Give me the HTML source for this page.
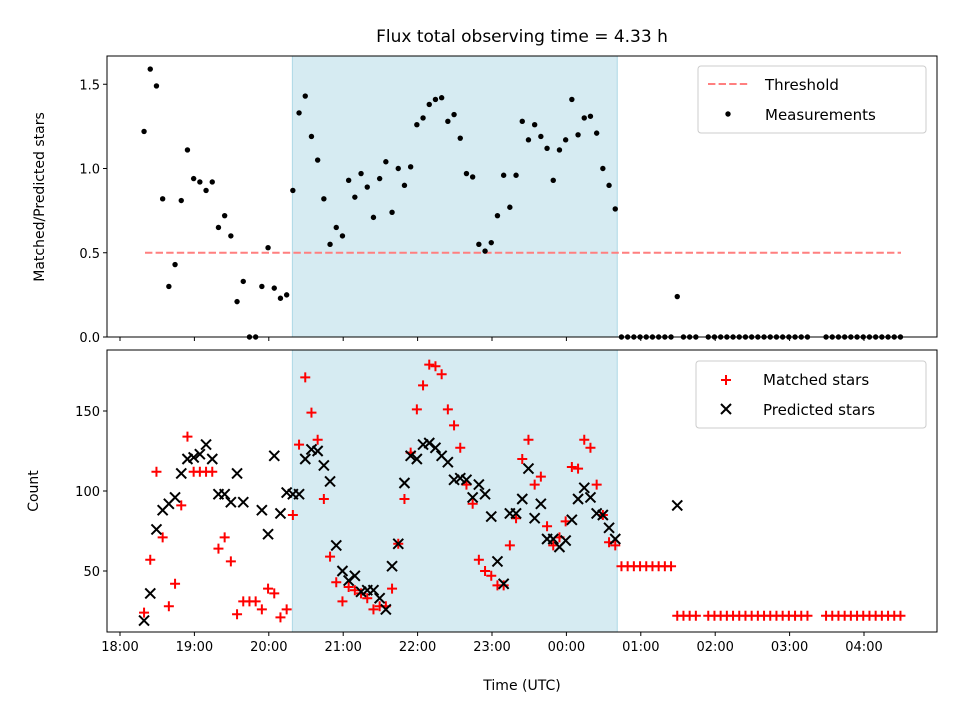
<!DOCTYPE html>
<html><head><meta charset="utf-8"><style>
body{margin:0;background:#fff}
svg text{font-family:"DejaVu Sans","Liberation Sans",sans-serif;fill:#000}
</style></head><body>
<svg id="c" width="960" height="720" viewBox="0 0 960 720" xmlns="http://www.w3.org/2000/svg"></svg>
<script>
const ratio=[1.22,1.59,1.49,0.82,0.30,0.43,0.81,1.11,0.94,0.92,0.87,0.92,0.65,0.72,0.60,0.21,0.33,0,0,0.30,0.53,0.29,0.23,0.25,0.87,1.33,1.43,1.19,1.05,0.82,0.55,0.65,0.60,0.93,0.83,0.97,0.89,0.71,0.94,1.04,0.74,1.00,0.90,1.01,1.26,1.30,1.38,1.41,1.42,1.28,1.32,1.18,0.97,0.95,0.55,0.51,0.56,0.72,0.96,0.77,0.96,1.28,1.17,1.26,1.19,1.12,0.93,1.11,1.17,1.41,1.20,1.30,1.31,1.21,1.00,0.90,0.76];
const matched=[24,57,112,71,28,42,91,134,112,112,112,112,64,71,56,23,31,31,31,26,39,36,21,26,85,129,171,149,132,95,59,43,31,40,38,36,33,26,28,28,39,67,95,124,151,166,179,178,173,151,141,127,104,92,57,50,47,41,41,66,83,120,132,104,109,78,66,71,81,115,114,132,127,104,85,68,66];
const predicted=[19,36,76,88,92,96,111,120,121,123,129,120,98,98,93,111,93,null,null,88,73,122,86,99,98,98,120,126,125,116,106,66,50,44,47,37,38,38,33,26,53,67,105,122,120,129,130,127,122,118,107,108,107,96,104,98,84,56,42,86,86,95,114,83,92,70,70,65,69,82,95,102,96,86,85,77,70];
const tailIdx=[77,78,79,80,81,82,83,84,85,86,87,88,89,91,92,93,94,95,96,97,98,99,100,101,102,103,104,105,106,107,110,111,112,113,114,115,116,117,118,119,120,121,122];
const tailRatio=[0,0,0,0,0,0,0,0,0,0.24,0,0,0,0,0,0,0,0,0,0,0,0,0,0,0,0,0,0,0,0,0,0,0,0,0,0,0,0,0,0,0,0,0];
const tailMatched=[53,53,53,53,53,53,53,53,53,22,22,22,22,22,22,22,22,22,22,22,22,22,22,22,22,22,22,22,22,22,22,22,22,22,22,22,22,22,22,22,22,22,22];
const tailPredicted=[null,null,null,null,null,null,null,null,null,91,null,null,null,null,null,null,null,null,null,null,null,null,null,null,null,null,null,null,null,null,null,null,null,null,null,null,null,null,null,null,null,null,null];
const xTicks=["18:00","19:00","20:00","21:00","22:00","23:00","00:00","01:00","02:00","03:00","04:00"];
const topTicks=[0,0.5,1.0,1.5];
const botTicks=[50,100,150];
const threshold=0.5;
const startMin=19.4, stepMin=5, shadeStart=139, shadeEnd=401;

const S=document.getElementById('c');const NS='http://www.w3.org/2000/svg';
function el(t,a,p){const e=document.createElementNS(NS,t);for(const k in a)e.setAttribute(k,a[k]);(p||S).appendChild(e);return e;}
const X0=107,X1=937;
const xs=m=>120+m*74.4/60;
const yT=v=>337-v*168.5;
const yB=v=>571-(v-50)*1.6;
const idx=[...ratio.keys()].concat(tailIdx);
const R=ratio.concat(tailRatio),M=matched.concat(tailMatched),P=predicted.concat(tailPredicted);
const tm=i=>startMin+stepMin*i;

// panels
[[56,337],[350,632]].forEach(([a,b],k)=>{
 const sh=el('rect',{x:xs(shadeStart),y:a,width:xs(shadeEnd)-xs(shadeStart),height:b-a,fill:'#add8e6','fill-opacity':0.5,stroke:'#add8e6'});
 
 
});
// threshold
const th=el('line',{x1:145,x2:901,y1:yT(threshold),y2:yT(threshold),stroke:'#ff7f7f','stroke-width':2,'stroke-dasharray':'7.4,3.2'});

// top dots
idx.forEach((i,j)=>{const d=el('circle',{cx:xs(tm(i)),cy:yT(R[j]),r:2.7,fill:'#000'});
 });
// bottom markers
idx.forEach((i,j)=>{
 const x=xs(tm(i));
 if(M[j]!=null){const y=yB(M[j]);const g=el('path',{d:`M${x-5} ${y}H${x+5}M${x} ${y-5}V${y+5}`,stroke:'#f00','stroke-width':2,fill:'none'});
  }
});
idx.forEach((i,j)=>{
 const x=xs(tm(i));
 if(P[j]!=null){const y=yB(P[j]);const g=el('path',{d:`M${x-5} ${y-5}L${x+5} ${y+5}M${x-5} ${y+5}L${x+5} ${y-5}`,stroke:'#000','stroke-width':2,fill:'none'});
  }
});
// axes frames
[[56,337],[350,632]].forEach(([a,b],k)=>{
 const f=el('rect',{x:X0,y:a,width:X1-X0,height:b-a,fill:'none',stroke:'#000','stroke-width':1});
 
 xTicks.forEach((t,n)=>{const x=xs(n*60);el('line',{x1:x,x2:x,y1:b,y2:b+4,stroke:'#000'});
  if(k){const tx=el('text',{x:x,y:b+19,'text-anchor':'middle','font-size':13});tx.textContent=t;
   }});
});
topTicks.forEach(v=>{const y=yT(v);el('line',{x1:X0-4,x2:X0,y1:y,y2:y,stroke:'#000'});
 const t=el('text',{x:X0-7,y:y+5,'text-anchor':'end','font-size':13});t.textContent=v.toFixed(1);
 });
botTicks.forEach(v=>{const y=yB(v);el('line',{x1:X0-4,x2:X0,y1:y,y2:y,stroke:'#000'});
 const t=el('text',{x:X0-7,y:y+5,'text-anchor':'end','font-size':13});t.textContent=v;
 });
function txt(s,a,name){const t=el('text',a);t.textContent=s;return t;}
txt('Flux total observing time = 4.33 h',{x:522,y:42,'text-anchor':'middle','font-size':17},'chart-title');
txt('Matched/Predicted stars',{x:0,y:0,'text-anchor':'middle','font-size':14,transform:'translate(44,197) rotate(-90)'},'top-y-axis-title');
txt('Count',{x:0,y:0,'text-anchor':'middle','font-size':14,transform:'translate(38,491) rotate(-90)'},'bottom-y-axis-title');
txt('Time (UTC)',{x:522,y:690,'text-anchor':'middle','font-size':14},'x-axis-title');
// legends
const l1=el('rect',{x:698,y:66,width:228,height:67,rx:3,fill:'#fff','fill-opacity':0.8,stroke:'#ccc'});

el('line',{x1:708,x2:748,y1:84,y2:84,stroke:'#ff7f7f','stroke-width':2,'stroke-dasharray':'7.4,3.2'});
txt('Threshold',{x:765,y:90,'font-size':15},'legend-threshold');
el('circle',{cx:728,cy:114,r:2.7,fill:'#000'});
txt('Measurements',{x:765,y:120,'font-size':15},'legend-measurements');
const l2=el('rect',{x:696,y:361,width:230,height:67,rx:3,fill:'#fff','fill-opacity':0.8,stroke:'#ccc'});

el('path',{d:'M721 380H731M726 375V385',stroke:'#f00','stroke-width':2});
txt('Matched stars',{x:763,y:385,'font-size':15},'legend-matched');
el('path',{d:'M721 404L731 414M721 414L731 404',stroke:'#000','stroke-width':2});
txt('Predicted stars',{x:763,y:415,'font-size':15},'legend-predicted');
</script>
</body></html>
